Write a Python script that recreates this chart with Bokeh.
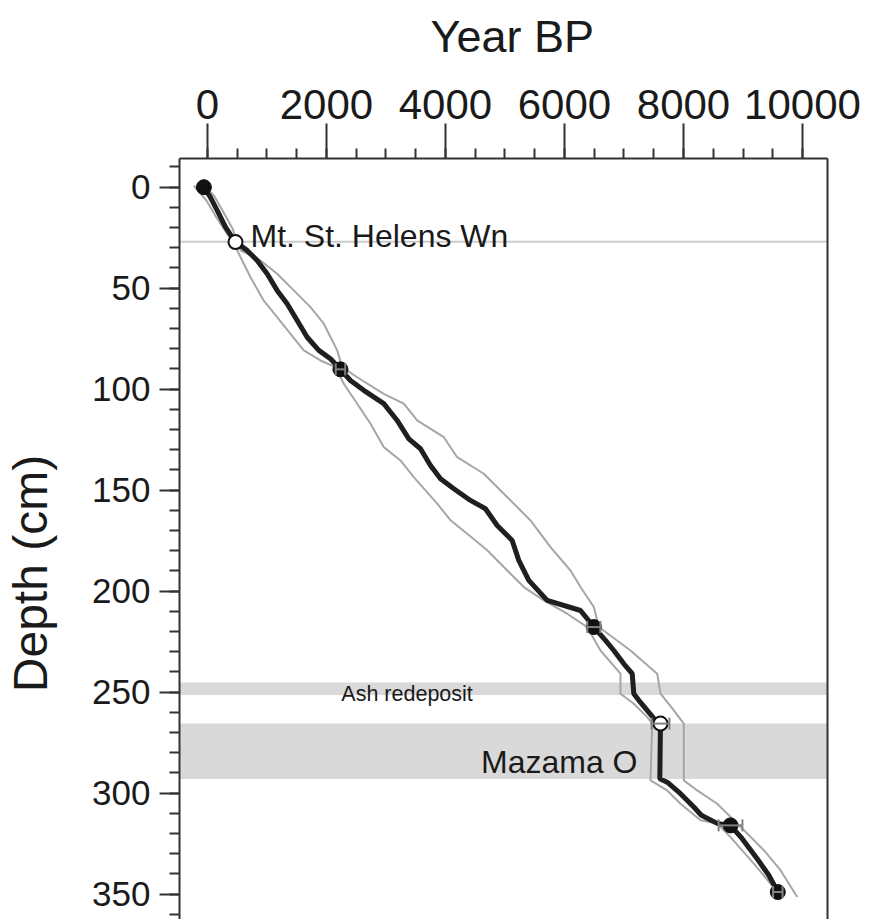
import math
from bokeh.plotting import figure
from bokeh.layouts import row
from bokeh.models import (Range1d, LinearAxis, SingleIntervalTicker, FixedTicker, Title,
                          BoxAnnotation, Span, Label, Whisker, ColumnDataSource, TeeHead)
from bokeh.embed import file_html
from bokeh.resources import INLINE

# ---------------- data ----------------
median_age = [-60, 50, 163, 303, 471, 667, 835, 1003, 1171, 1339, 1508, 1676, 1871, 2067,
              2235, 2403, 2627, 2963, 3188, 3384, 3580, 3748, 3916, 4140, 4420, 4672, 4869,
              5121, 5232, 5400, 5709, 6269, 6382, 6493, 6689, 6829, 6997, 7138, 7165, 7249,
              7390, 7529, 7613, 7602, 7726, 7950, 8173, 8300, 8566, 8790, 8986, 9238, 9434, 9585]
median_depth = [0, 5, 11.5, 19.8, 27.2, 31.3, 36.3, 42.9, 51.1, 57.7, 66, 74.3, 80.8, 85,
                90.2, 95.7, 100.6, 107.2, 115.5, 124.6, 129.5, 137.8, 144.4, 149.3, 155.1, 159.2, 167.5,
                174.9, 184.8, 194.7, 204.6, 209.6, 213.7, 217.8, 224.4, 229.4, 236, 240.9, 250.8, 254.1,
                259.1, 264, 265.6, 292.9, 294.6, 300.3, 306.9, 311, 315, 316, 322.6, 332.5, 340.7, 349]

lower_age = [-230, -17, 151, 370, 499, 723, 946, 1171, 1395, 1619, 1899, 2151, 2291, 2516,
             2740, 2963, 3244, 3467, 3861, 4084, 4365, 4701, 4980, 5316, 5652, 6045, 6382,
             6605, 6941, 6941, 7165, 7390, 7474, 7445, 7726, 7950, 8286, 8566, 8790, 9182, 9462, 9630]
lower_depth = [-0.8, 6.6, 15, 24.9, 31.3, 44.6, 56.2, 64.4, 72.6, 80.8, 85.8, 89.1, 97.3, 107.2,
               117.1, 128.7, 135.3, 143.6, 156.7, 164.9, 171.6, 179.8, 188.1, 198, 204.6, 211.2, 217.8,
               229.4, 240.9, 250.8, 255.8, 262.4, 265.6, 293.7, 298.7, 305.3, 313.5, 315.1, 321.8, 334.9, 344.8, 349.8]

upper_age = [-50, 118, 252, 420, 555, 891, 1171, 1450, 1731, 1955, 2180, 2264, 2516, 2963,
             3299, 3524, 3972, 4197, 4644, 4980, 5429, 5765, 6101, 6269, 6493, 6577, 7109,
             7558, 7614, 7837, 8005, 8005, 8231, 8566, 8903, 9350, 9630, 9911]
upper_depth = [-1, 4.6, 11.5, 20.4, 31.3, 36.3, 42.9, 51.1, 59.4, 67.6, 80.8, 89.1, 94.1, 102.3,
               107.2, 115.5, 123.8, 133.7, 141.9, 151.8, 165, 178.2, 189.8, 198, 207.9, 217.8, 229.4,
               240.9, 250.8, 259.1, 265.6, 293.7, 298.7, 305.3, 315.1, 328.3, 338.2, 351.5]

# radiocarbon dates (filled) and tephras (open)
c14_age = [-60, 2235, 6493, 8790, 9585]
c14_depth = [0, 90.2, 217.8, 316, 349]
c14_err = [0, 80, 110, 200, 80]
tephra_age = [471, 7613]
tephra_depth = [27.2, 265.6]
tephra_err = [0, 150]

tephra_line = 27
ash_band = (245.2, 251.5)
mazama_band = (265.6, 293)

x_ticks_mid = [1000, 3000, 5000, 7000, 9000]

# ---------------- figure ----------------
X0, X1 = -470, 10420
Y_TOP, Y_BOT = -14.2, 362.6
FW, FH = 648, 761
TOP = 158        # frame top (px)
LEFT = 179       # frame left (px)
LW = 80          # width of the strip holding the y-axis title
H = TOP + FH

FONT = "Liberation Sans"
TXT = "#1a1a1a"
AX = "#333333"

p = figure(frame_width=FW, frame_height=FH,
           x_range=Range1d(X0, X1), y_range=Range1d(Y_BOT, Y_TOP),
           x_axis_location="above", toolbar_location=None, output_backend="svg",
           min_border_left=LEFT - LW, min_border_top=TOP, min_border_right=47, min_border_bottom=0,
           background_fill_color="white", border_fill_color="white")
p.grid.visible = False
p.outline_line_color = None

xa = p.xaxis[0]
xa.ticker = SingleIntervalTicker(interval=2000, num_minor_ticks=4)
ya = p.yaxis[0]
ya.ticker = SingleIntervalTicker(interval=50, num_minor_ticks=5)
for ax in (xa, ya):
    ax.axis_line_width = 2
    ax.axis_line_color = AX
    ax.major_tick_line_width = 2
    ax.minor_tick_line_width = 2
    ax.major_tick_line_color = AX
    ax.minor_tick_line_color = AX
    ax.major_tick_in = 0
    ax.minor_tick_in = 0
    ax.major_label_text_font = FONT
    ax.major_label_text_color = TXT
xa.major_tick_out = 35
xa.minor_tick_out = 10
xa.major_label_standoff = 5
xa.major_label_text_font_size = "42px"
# a blank, tiny axis label only reserves room between tick labels and the title
xa.axis_label = " "
xa.axis_label_text_font_size = "1px"
xa.axis_label_standoff = 9
ya.major_tick_out = 20
ya.minor_tick_out = 10
ya.major_label_standoff = 9
ya.major_label_text_font_size = "35px"

# medium ticks at odd thousands (axis pinned at the frame top)
mid_axis = LinearAxis(ticker=FixedTicker(ticks=x_ticks_mid), fixed_location=Y_TOP,
                      axis_line_color=None, major_tick_out=20, major_tick_in=0,
                      major_tick_line_width=2, major_tick_line_color=AX,
                      minor_tick_line_color=None, major_label_text_font_size="0px",
                      major_label_text_color=None)
p.add_layout(mid_axis, "above")

ra = LinearAxis(ticker=FixedTicker(ticks=[]), axis_line_width=2, axis_line_color=AX,
                major_tick_line_color=None, minor_tick_line_color=None,
                major_label_text_font_size="0px")
p.add_layout(ra, "right")

# x-axis title
p.add_layout(Title(text="Year BP", align="left", offset=251, vertical_align="top",
                   standoff=20, text_font=FONT, text_font_size="45px",
                   text_font_style="normal", text_color=TXT), "above")

# bands
p.add_layout(BoxAnnotation(top=ash_band[0], bottom=ash_band[1], fill_color="#d9d9d9",
                           fill_alpha=1, line_color=None, level="underlay"))
p.add_layout(BoxAnnotation(top=mazama_band[0], bottom=mazama_band[1], fill_color="#d9d9d9",
                           fill_alpha=1, line_color=None, level="underlay"))
p.add_layout(Span(location=tephra_line, dimension="width", line_color="#cccccc",
                  line_width=2, level="underlay"))

# model lines
p.line(lower_age, lower_depth, line_color="#a6a6a6", line_width=2)
p.line(upper_age, upper_depth, line_color="#a6a6a6", line_width=2)
p.line(median_age, median_depth, line_color="#1f1f1f", line_width=5)

# dates
p.scatter(c14_age, c14_depth, size=15, fill_color="#111111", line_color="#111111")
p.scatter(tephra_age, tephra_depth, size=14, fill_color="white", line_color="#111111", line_width=2)

err_age = [a for a, e in zip(c14_age + tephra_age, c14_err + tephra_err) if e > 0]
err_depth = [d for d, e in zip(c14_depth + tephra_depth, c14_err + tephra_err) if e > 0]
err_val = [e for e in c14_err + tephra_err if e > 0]
wsrc = ColumnDataSource(dict(base=err_depth,
                             lower=[a - e for a, e in zip(err_age, err_val)],
                             upper=[a + e for a, e in zip(err_age, err_val)]))
p.add_layout(Whisker(base="base", lower="lower", upper="upper", source=wsrc, dimension="width",
                     line_color="#808080", line_width=2, level="overlay",
                     upper_head=TeeHead(size=12, line_color="#808080", line_width=2),
                     lower_head=TeeHead(size=12, line_color="#808080", line_width=2)))

# texts inside the frame
def lab(x, y, t, size, align="left"):
    p.add_layout(Label(x=x, y=y, text=t, text_font=FONT, text_font_size=size,
                       text_color=TXT, text_align=align, text_baseline="alphabetic"))

lab(723, 24.4, "Mt. St. Helens Wn", "32px")
lab(2250, 250.8, "Ash redeposit", "21.5px")
lab(7227, 284.8, "Mazama O", "32px", align="right")

# strip on the left holding the y-axis title (page-pixel coordinates)
t = figure(frame_width=LW, frame_height=FH, x_range=Range1d(0, LW), y_range=Range1d(H, TOP),
           toolbar_location=None, output_backend="svg",
           min_border_left=0, min_border_right=0, min_border_top=TOP, min_border_bottom=0,
           background_fill_color="white", border_fill_color="white")
t.axis.visible = False
t.grid.visible = False
t.outline_line_color = None
t.add_layout(Label(x=30, y=573, text="Depth (cm)", text_font=FONT, text_font_size="48px",
                   text_color=TXT, text_align="center", text_baseline="middle",
                   angle=math.pi / 2))

layout = row(t, p, spacing=0)
open("out.html", "w").write(file_html(layout, INLINE))
